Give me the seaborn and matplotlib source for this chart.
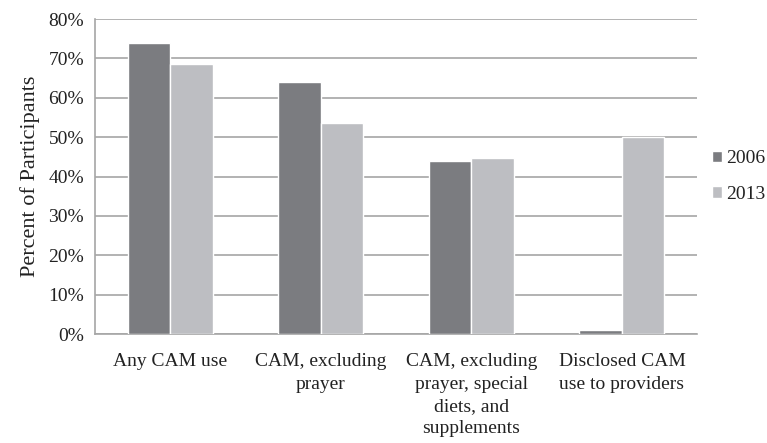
import matplotlib
matplotlib.use("Agg")
import matplotlib.pyplot as plt
import pandas as pd
import seaborn as sns
from matplotlib.ticker import FixedLocator, PercentFormatter

categories = ["Any CAM use", "CAM, excluding\nprayer",
              "CAM, excluding\nprayer, special\ndiets, and\nsupplements",
              "Disclosed CAM\nuse to providers"]
years = ["2006", "2013"]
values_2006 = [74, 64, 44, 1]
values_2013 = [68.5, 53.5, 44.7, 50]

df = pd.DataFrame({
    "category": categories * 2,
    "year": [years[0]] * 4 + [years[1]] * 4,
    "value": values_2006 + values_2013,
})

sns.set_style("white")
plt.rcParams["font.family"] = ["Liberation Serif", "DejaVu Serif"]

fig = plt.figure(figsize=(7.67, 4.43), dpi=100)
ax = fig.add_axes([0.124, 0.246, 0.785, 0.711])

sns.barplot(data=df, x="category", y="value", hue="year",
            palette=["#7b7c80", "#bdbec2"], width=0.565, saturation=1,
            ax=ax, zorder=3)

grid_color = "#a6a6a6"
text_color = "#222222"
ax.set_ylim(0, 80)
ax.set_yticks(range(0, 81, 10))
ax.yaxis.set_major_formatter(PercentFormatter(decimals=0))
ax.yaxis.grid(True, color=grid_color, linewidth=1.2, zorder=0)
ax.set_axisbelow(True)
ax.set_xlim(-0.5, 3.5)

for s in ["top", "right"]:
    ax.spines[s].set_visible(False)
for s in ["left", "bottom"]:
    ax.spines[s].set_color(grid_color)
    ax.spines[s].set_linewidth(1.2)

ax.tick_params(axis="y", length=5, color=grid_color, width=1.2, labelsize=14, pad=3,
               labelcolor=text_color)
ax.tick_params(axis="x", which="major", length=0, labelsize=14, pad=14, labelcolor=text_color)
ax.xaxis.set_minor_locator(FixedLocator([-0.5, 0.5, 1.5, 2.5, 3.5]))
ax.tick_params(axis="x", which="minor", length=6, color=grid_color, width=1.2)
for lbl in ax.get_xticklabels():
    lbl.set_verticalalignment("top")
    lbl.set_linespacing(1.4)

ax.set_xlabel("")
ax.set_ylabel("Percent of Participants", fontsize=16, color=text_color, labelpad=6)

leg = ax.legend(loc="center left", bbox_to_anchor=(0.995, 0.5), frameon=False,
                fontsize=14, handlelength=0.55, handleheight=0.55, handletextpad=0.2,
                labelspacing=0.95, borderaxespad=0.5)
for t in leg.get_texts():
    t.set_color(text_color)

fig.savefig("out.png", dpi=100)
